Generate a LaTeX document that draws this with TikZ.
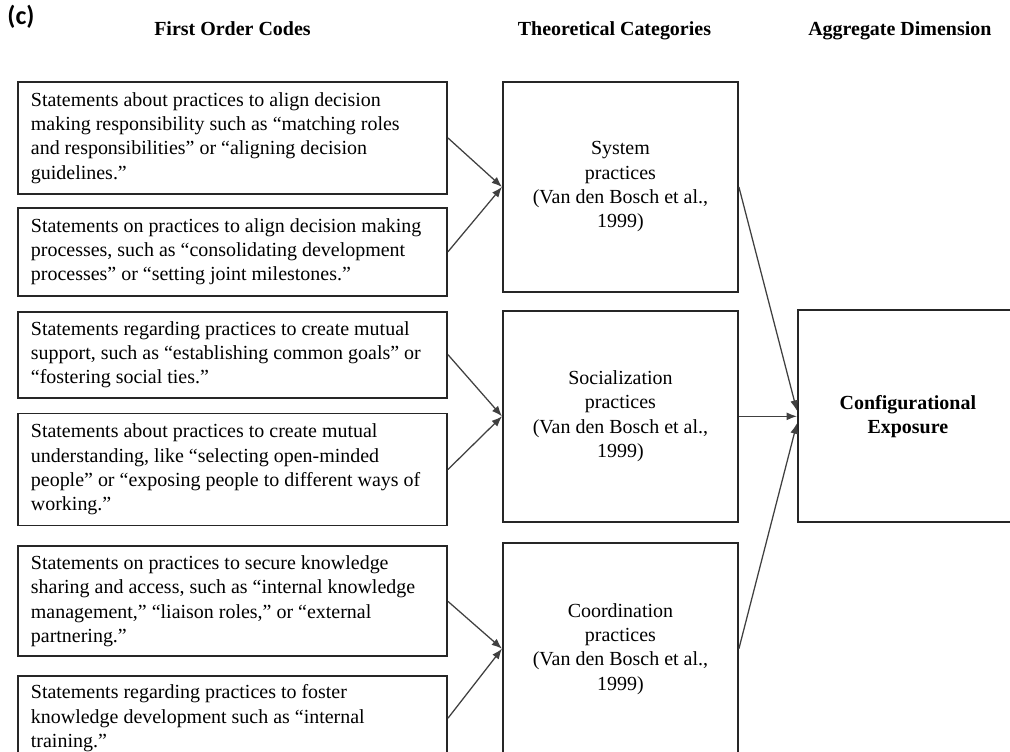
\documentclass[tikz,border=0pt]{standalone}
\usepackage{fontspec}
\setmainfont{Liberation Serif}
\newfontfamily\tagfont{Carlito}
\usepackage{tikz}
\usetikzlibrary{arrows.meta, positioning}
\definecolor{boxline}{RGB}{38,38,38}
\definecolor{arrowline}{RGB}{64,64,64}

\begin{document}
\begin{tikzpicture}[
        x=0.025cm, y=-0.025cm,
        font=\fontsize{14.2}{17.3}\selectfont,
        codebox/.style={draw=boxline, line width=1.3pt, anchor=north west,
                        text width=10.075cm, inner xsep=0.325cm, align=flush left},
        catbox/.style={draw=boxline, line width=1.3pt, anchor=north west,
                       minimum width=5.875cm, minimum height=5.25cm, align=center},
        head/.style={font=\fontsize{14.2}{17.3}\selectfont\bfseries},
        link/.style={-{Latex[length=2.6mm, width=2mm]}, draw=arrowline, line width=0.9pt}
      ]
      \useasboundingbox (0,0) rectangle (1010,751);

      % first order codes
      \node[codebox, minimum height=2.8cm] (c1) at (17,81)
        {Statements about practices to align decision\\
         making responsibility such as “matching roles\\
         and responsibilities” or “aligning decision\\
         guidelines.”};
      \node[codebox, minimum height=2.2cm, below=0.3cm of c1] (c2)
        {Statements on practices to align decision making\\
         processes, such as “consolidating development\\
         processes” or “setting joint milestones.”};
      \node[codebox, minimum height=2.15cm, below=0.35cm of c2] (c3)
        {Statements regarding practices to create mutual\\
         support, such as “establishing common goals” or\\
         “fostering social ties.”};
      \node[codebox, minimum height=2.8cm, below=0.35cm of c3] (c4)
        {Statements about practices to create mutual\\
         understanding, like “selecting open-minded\\
         people” or “exposing people to different ways of\\
         working.”};
      \node[codebox, minimum height=2.75cm, below=0.475cm of c4] (c5)
        {Statements on practices to secure knowledge\\
         sharing and access, such as “internal knowledge\\
         management,” “liaison roles,” or “external\\
         partnering.”};
      \node[codebox, minimum height=2.1cm, below=0.45cm of c5] (c6)
        {Statements regarding practices to foster\\
         knowledge development such as “internal\\
         training.”};

      % theoretical categories
      \node[catbox] (t1) at (502,81)
        {System\\practices\\(Van den Bosch et al.,\\1999)};
      \node[catbox, minimum height=5.275cm, below=0.425cm of t1] (t2)
        {Socialization\\practices\\(Van den Bosch et al.,\\1999)};
      \node[catbox, minimum height=5.3cm, below=0.475cm of t2] (t3)
        {Coordination\\practices\\(Van den Bosch et al.,\\1999)};

      % aggregate dimension
      \node[catbox, head, minimum width=5.5cm, minimum height=5.3cm,
            right=1.45cm of t2] (agg) {Configurational\\Exposure};

      % column heads
      \coordinate (headline) at (0,35);
      \node[head, anchor=base] (h1) at (c1 |- headline) {First Order Codes};
      \node[head, anchor=base, xshift=-0.15cm] (h2) at (t1 |- headline) {Theoretical Categories};
      \node[head, anchor=base, xshift=-0.2cm] (h3) at (agg |- headline) {Aggregate Dimension};
      \node[font=\tagfont\bfseries\fontsize{18.5}{22}\selectfont] (tag) at (21,17) {(c)};

      \draw[link] (c1.east) -- (t1.west);
      \draw[link] (c2.east) -- (t1.west);
      \draw[link] (c3.east) -- (t2.west);
      \draw[link] (c4.east) -- (t2.west);
      \draw[link] (c5.east) -- (t3.west);
      \draw[link] (c6.east) -- (t3.west);

      \draw[link] (t1.east) -- ([yshift=4pt]agg.west);
      \draw[link] (t2.east) -- (agg.west);
      \draw[link] (t3.east) -- ([yshift=-5pt]agg.west);
    \end{tikzpicture}
\end{document}
